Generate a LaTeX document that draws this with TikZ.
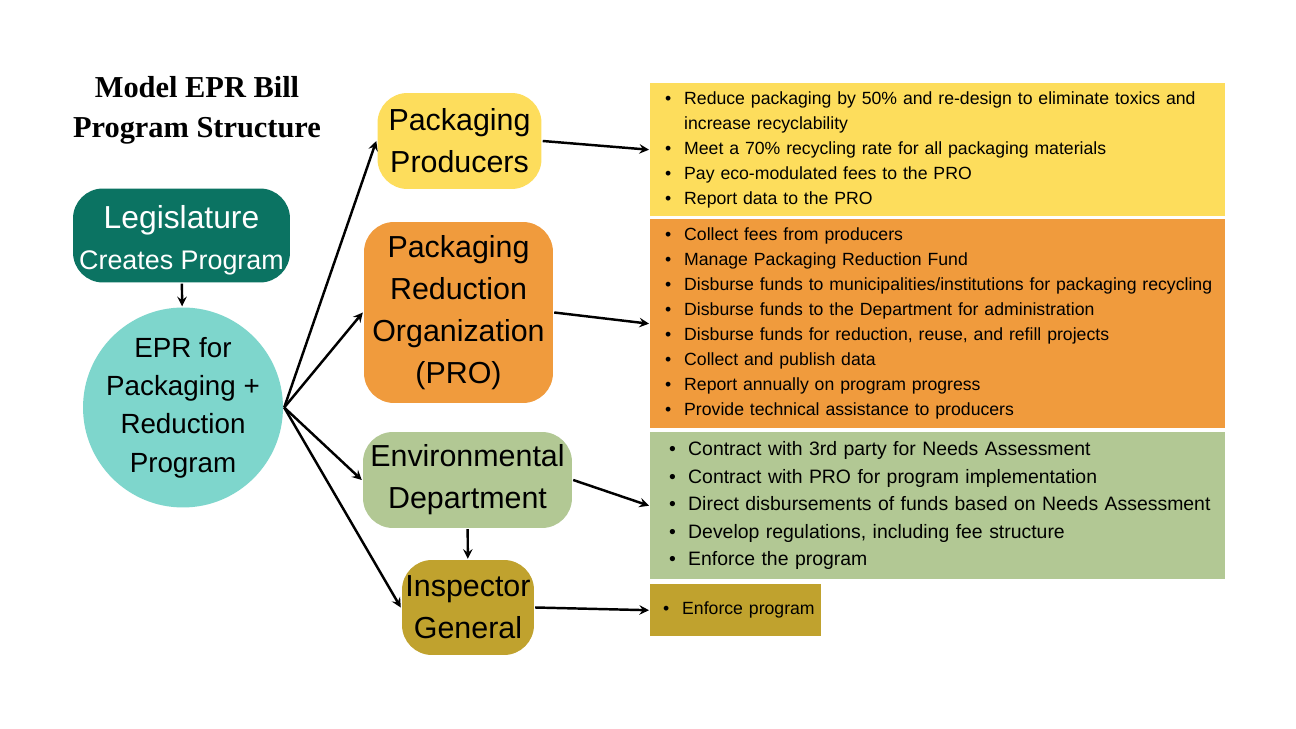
\documentclass[tikz,border=0pt]{standalone}
\usepackage{fontspec}
\setmainfont{Liberation Sans}
\newfontfamily\titlefont{Liberation Serif}
\usetikzlibrary{positioning, arrows}
\definecolor{legteal}{RGB}{11,115,98}
\definecolor{eprcyan}{RGB}{126,214,204}
\definecolor{ppyellow}{RGB}{253,221,92}
\definecolor{proorange}{RGB}{240,155,61}
\definecolor{envgreen}{RGB}{178,200,148}
\definecolor{igolive}{RGB}{192,162,46}
\newcommand{\itm}[1]{\mbox{\makebox[0.38cm][l]{\textbullet}#1}} % one bullet line
\tikzset{
    ->, % every connector is directed
    >=stealth, % arrow heads
    box/.style={rounded corners=0.6cm, align=center, inner sep=0pt, font=\fontsize{17.3}{23.8}\selectfont}, % the rounded boxes
    list/.style={anchor=north west, align=left, inner xsep=0.3cm, inner ysep=0pt, text width=10.9cm, minimum width=11.5cm, font=\fontsize{10.05}{14.2}\selectfont}, % the bullet lists
}

\begin{document}
\begin{tikzpicture}[x=0.02cm, y=-0.02cm, line width=1.4pt]
    \path[fill=white] (0,0) rectangle (1296,729);
    \node[font=\titlefont\bfseries\fontsize{17.3}{22.7}\selectfont, align=center] (title) at (197,110) {Model EPR Bill\\Program Structure};
    \node[box, fill=legteal, text=white, minimum width=4.34cm, minimum height=1.88cm, font=\fontsize{18.1}{23.2}\selectfont] (leg) at (181.5,235.5) {\rule{0pt}{18.6pt}Legislature\\{\fontsize{15.3}{23.2}\selectfont Creates Program}};
    \node[circle, fill=eprcyan, minimum size=4cm, inner sep=0pt, label={[align=center, font=\fontsize{15.8}{21.8}\selectfont]center:EPR for\\Packaging +\\Reduction\\Program}] (epr) at (183,407.5) {};
    \node[box, fill=ppyellow, minimum width=3.28cm, minimum height=1.92cm] (pp) at (459.5,141) {Packaging\\Producers};
    \node[box, fill=proorange, minimum width=3.78cm, minimum height=3.62cm] (pro) at (458.5,312.5) {Packaging\\Reduction\\Organization\\(PRO)};
    \node[box, fill=envgreen, minimum width=4.18cm, minimum height=1.92cm] (env) at (467.5,480) {Environmental\\Department};
    \node[box, fill=igolive, minimum width=2.64cm, minimum height=1.9cm] (ig) at (468,607.5) {Inspector\\General};

    \node[list, fill=ppyellow, minimum height=2.66cm] (ppl) at (649,82) {\itm{Reduce packaging by 50\% and re-design to eliminate toxics and}\\\hspace*{0.38cm}increase recyclability\\\itm{Meet a 70\% recycling rate for all packaging materials}\\\itm{Pay eco-modulated fees to the PRO}\\\itm{Report data to the PRO}};
    \node[list, fill=proorange, minimum height=4.18cm] (prol) at (649,218) {\itm{Collect fees from producers}\\\itm{Manage Packaging Reduction Fund}\\\itm{Disburse funds to municipalities/institutions for packaging recycling}\\\itm{Disburse funds to the Department for administration}\\\itm{Disburse funds for reduction, reuse, and refill projects}\\\itm{Collect and publish data}\\\itm{Report annually on program progress}\\\itm{Provide technical assistance to producers}};
    \node[list, fill=envgreen, minimum height=2.94cm, inner xsep=0.38cm, text width=10.74cm, font=\fontsize{11.05}{15.6}\selectfont] (envl) at (649,431) {\itm{Contract with 3rd party for Needs Assessment}\\\itm{Contract with PRO for program implementation}\\\itm{Direct disbursements of funds based on Needs Assessment}\\\itm{Develop regulations, including fee structure}\\\itm{Enforce the program}};
    \node[list, fill=igolive, minimum width=3.42cm, minimum height=1.04cm, inner xsep=0.26cm, text width=2.9cm] (igl) at (649,583) {\itm{Enforce program}};

    \path (leg) edge (epr)
          (epr.east) edge (pp.west)
          (epr.east) edge (pro.west)
          (epr.east) edge (env.west)
          (epr.east) edge (ig.west)
          (env) edge (ig)
          (pp.east) edge (ppl.west)
          (pro.east) edge (prol.west)
          (env.east) edge (envl.west)
          (ig.east) edge (igl.west);
\end{tikzpicture}
\end{document}
